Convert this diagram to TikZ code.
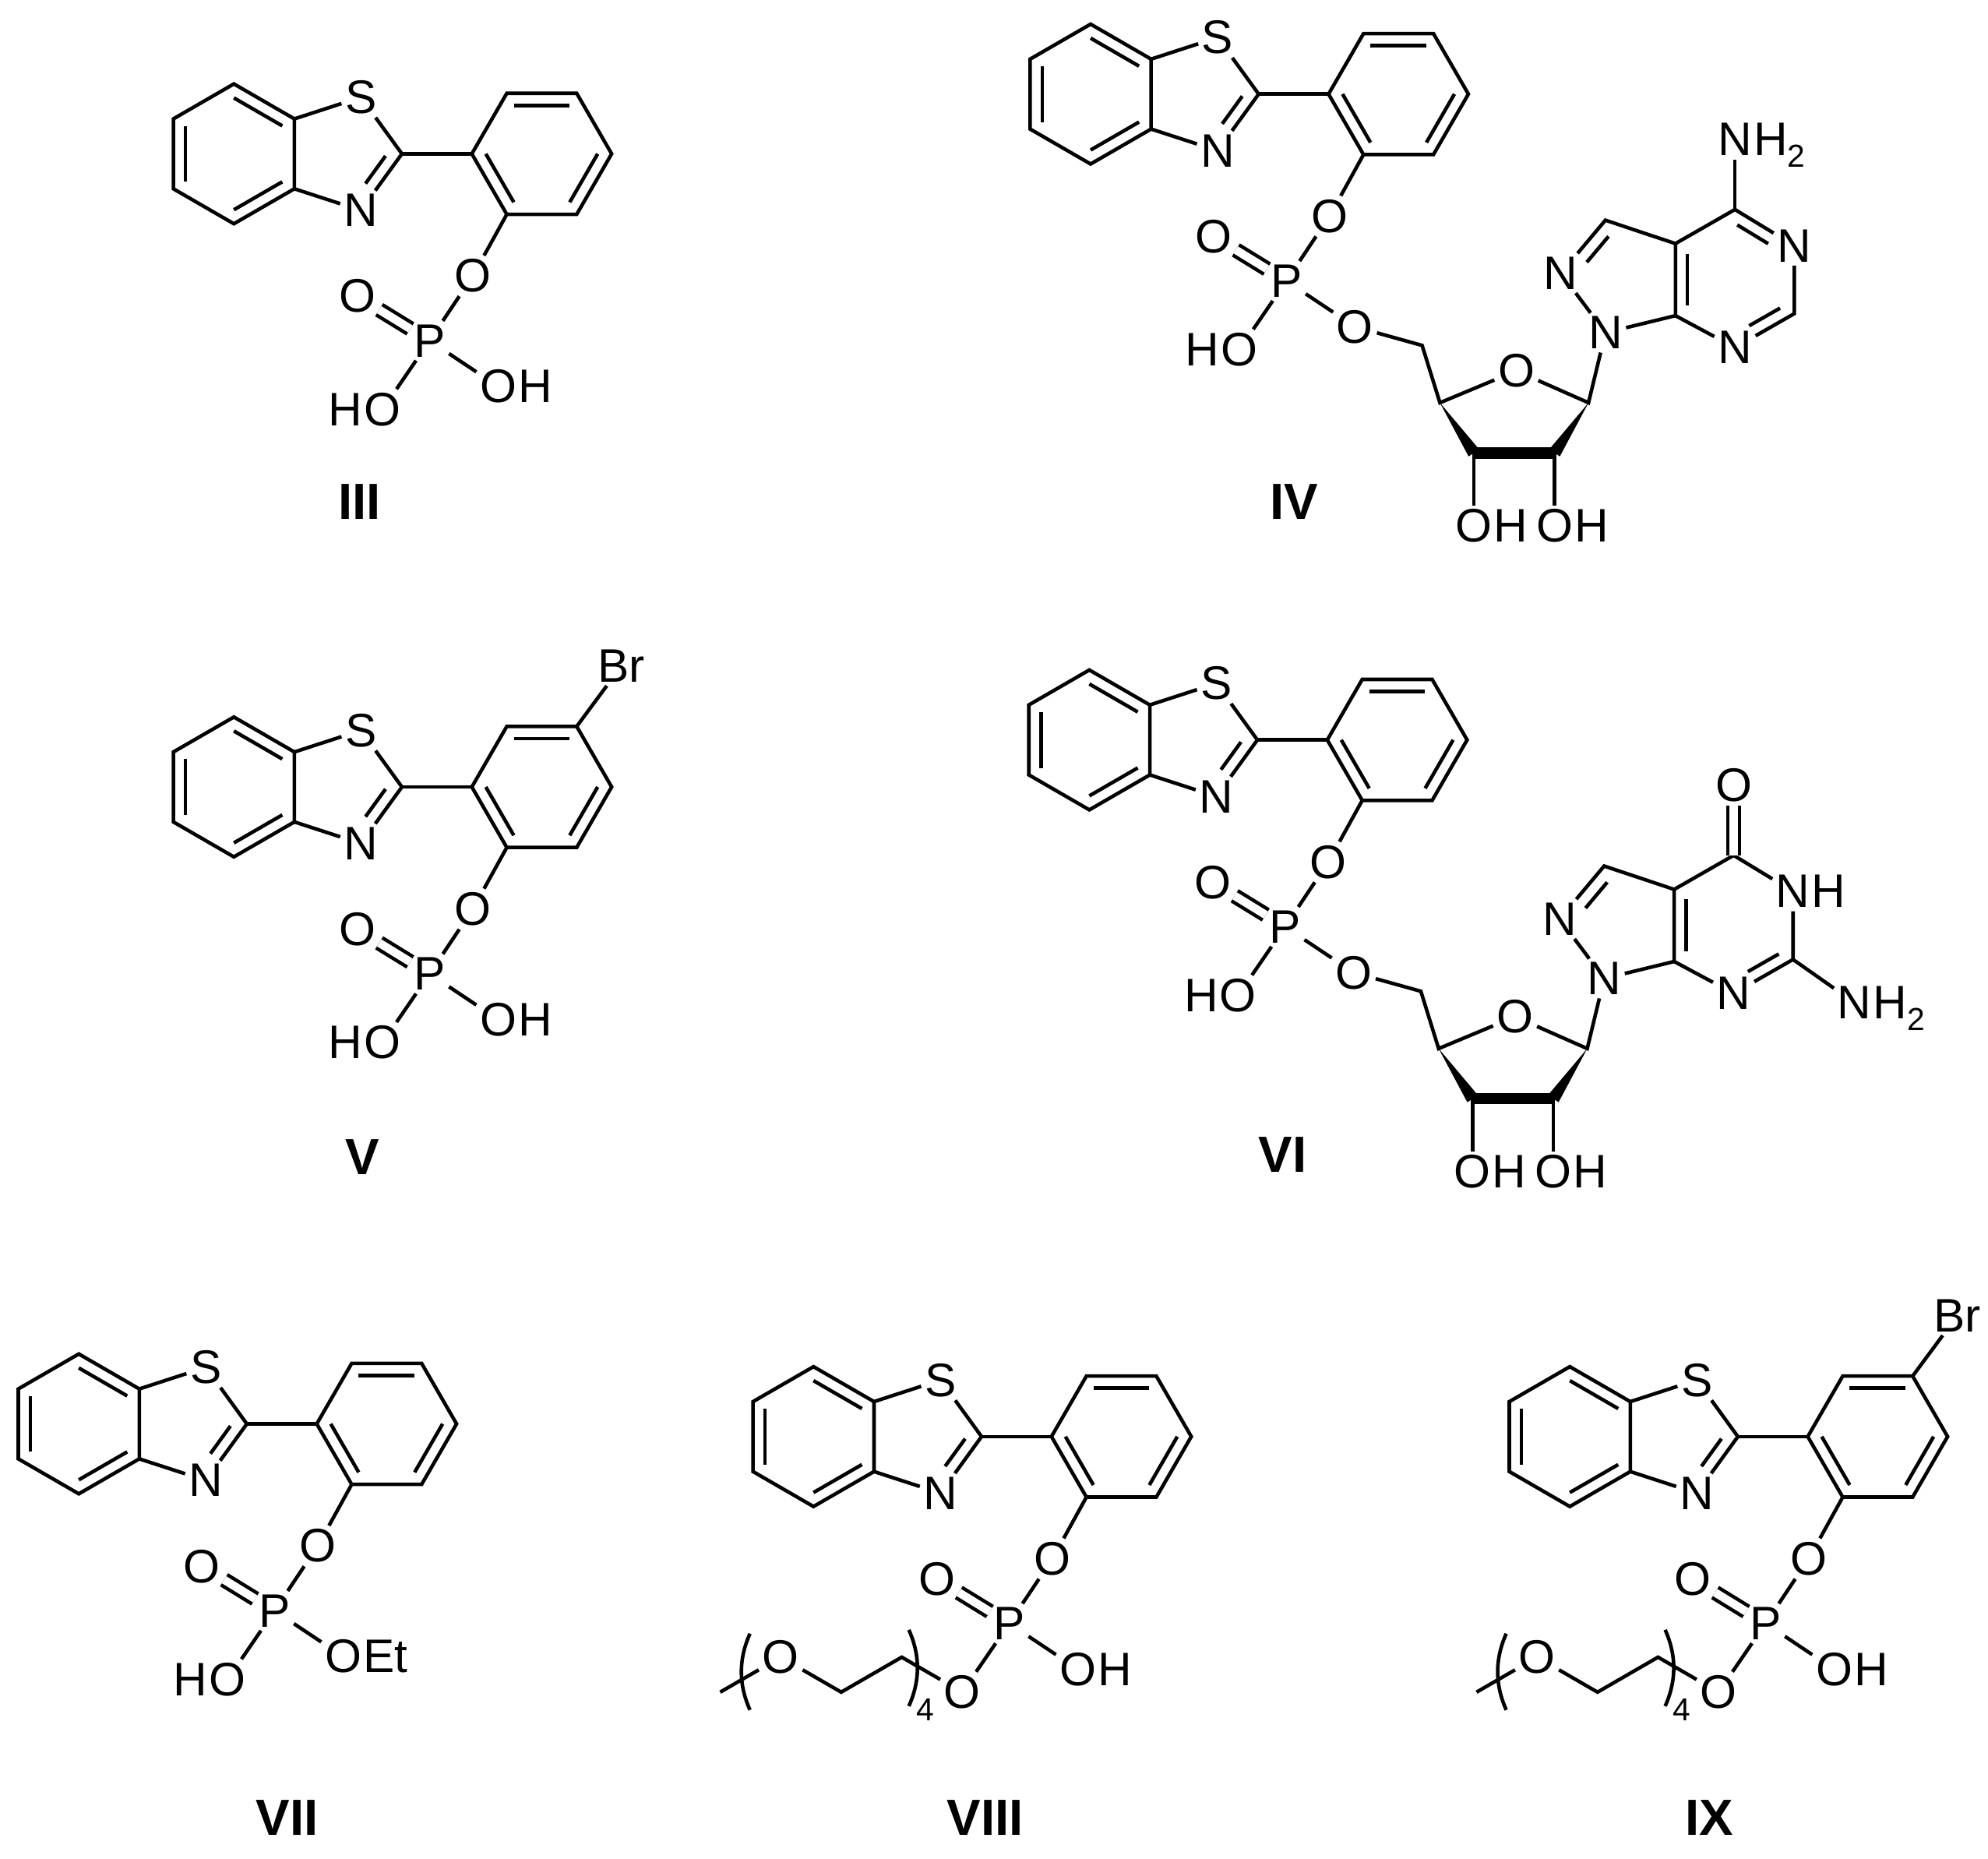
\documentclass[tikz,border=0pt]{standalone}
\usepackage{fontspec}
\setmainfont{Liberation Sans}
\usetikzlibrary{calc}
\newcommand\afont{\fontsize{37}{40}\selectfont}
\newcommand\sfont{\fontsize{25}{25}\selectfont}
\newcommand\subtwo{\raisebox{-9pt}[0pt][0pt]{\sfont 2}}
\newcommand\dbl[6]{\path ($(#1)!#4!(#3)$) coordinate (tmpP) ($(#2)!#4!(#3)$) coordinate (tmpQ); \draw ($(tmpP)!#5!(tmpQ)$) -- ($(tmpQ)!#6!(tmpP)$);}
\tikzset{
  atom/.style={inner sep=1.5pt, font=\afont},
  hl/.style={inner sep=0pt, font=\afont, label distance=-3pt},
  dbond/.style={double, double distance=6.5pt},
  lbl/.style={font=\fontsize{40}{44}\selectfont\bfseries},
}
\newcommand\btcore[3]{%
 \coordinate (#1a1) at (-47.6,-27.5);
 \coordinate (#1a2) at (0,-55);
 \coordinate (#1a3) at (47.6,-27.5);
 \coordinate (#1a4) at (47.6,27.5);
 \coordinate (#1a5) at (0,55);
 \coordinate (#1a6) at (-47.6,27.5);
 \coordinate (#1cb) at (0,0);
 \node[atom] (#1S) at (99.9,-44.5) {S};
 \node[atom] (#1N) at (99.9,44.5) {N};
 \coordinate (#1C2) at (132.2,0);
 \coordinate (#1ct) at (85.45,0);
 \coordinate (#1p1) at (187.2,0);
 \coordinate (#1p2) at (214.7,-47.6);
 \coordinate (#1p3) at (269.7,-47.6);
 \coordinate (#1p4) at (297.2,0);
 \coordinate (#1p5) at (269.7,47.6);
 \coordinate (#1p6) at (214.7,47.6);
 \coordinate (#1pc) at (242.2,0);
 \node[atom] (#1O1) at (188,96) {O};
 \node[atom] (#1P) at (154,147) {P};
 \node[atom] (#1O2) at (97,112) {O};
 \node[atom,#2] (#1O3) at (117,201) {O};
 \node[atom,#3] (#1O4) at (208,183) {O};
 \draw (#1a1)--(#1a2)--(#1a3)--(#1a4)--(#1a5)--(#1a6)--cycle;
 \draw (#1a3)--(#1S)--(#1C2)--(#1N)--(#1a4);
 \draw (#1C2)--(#1p1);
 \draw (#1p1)--(#1p2)--(#1p3)--(#1p4)--(#1p5)--(#1p6)--cycle;
 \dbl{#1a2}{#1a3}{#1cb}{0.2}{0}{0}
 \dbl{#1a4}{#1a5}{#1cb}{0.2}{0}{0}
 \dbl{#1a6}{#1a1}{#1cb}{0.2}{0}{0}
 \dbl{#1C2}{#1N}{#1ct}{0.25}{0.05}{0.3}
 \dbl{#1p2}{#1p3}{#1pc}{0.2}{0}{0}
 \dbl{#1p4}{#1p5}{#1pc}{0.2}{0}{0}
 \dbl{#1p6}{#1p1}{#1pc}{0.2}{0}{0}
 \draw (#1p6)--(#1O1)--(#1P);
 \draw[dbond] (#1P)--(#1O2);
 \draw (#1P)--(#1O3);
 \draw (#1P)--(#1O4);
}
\newcommand\nucl[2]{%
 \coordinate (#1c5) at (260.8,197.7);
 \coordinate (#1c4) at (274.8,242.8);
 \node[atom] (#1Or) at (334.9,217.7) {O};
 \coordinate (#1c1) at (391.7,242.8);
 \coordinate (#1c3) at (301.5,282.2);
 \coordinate (#1c2) at (365,282.2);
 \node[atom,label={[hl]right:H}] (#1oh3) at (301.5,339.6) {O};
 \node[atom,label={[hl]right:H}] (#1oh2) at (365,339.6) {O};
 \node[atom] (#1N1) at (405,187.7) {N};
 \node[atom] (#1N2) at (370,140.9) {N};
 \coordinate (#1q3) at (405,99.2);
 \coordinate (#1q3a) at (460.1,117.6);
 \coordinate (#1q7a) at (460.1,174.3);
 \coordinate (#1q4) at (506.9,90.8);
 \node[atom,#2] (#1N5) at (553.6,119.2) {N};
 \coordinate (#1q6) at (553.6,172.7);
 \node[atom] (#1N7) at (506.9,199.4) {N};
 \coordinate (#1pz) at (420,143.9);
 \coordinate (#1pm) at (506.9,145.7);
 \draw (#1O4)--(#1c5)--(#1c4)--(#1Or)--(#1c1)--(#1N1);
 \fill (#1c4) -- ($(#1c3)!5pt!90:(#1c4)$) -- ($(#1c3)!5pt!-90:(#1c4)$) -- cycle;
 \fill (#1c1) -- ($(#1c2)!5pt!90:(#1c1)$) -- ($(#1c2)!5pt!-90:(#1c1)$) -- cycle;
 \draw[line width=9pt] (#1c3)--(#1c2);
 \draw (#1c3)--(#1oh3);
 \draw (#1c2)--(#1oh2);
 \draw (#1N1)--(#1N2)--(#1q3)--(#1q3a)--(#1q7a)--(#1N1);
 \draw (#1q3a)--(#1q4)--(#1N5)--(#1q6)--(#1N7)--(#1q7a);
 \dbl{#1N2}{#1q3}{#1pz}{0.25}{0.3}{0.05}
 \dbl{#1q3a}{#1q7a}{#1pm}{0.2}{0.05}{0.05}
 \dbl{#1q6}{#1N7}{#1pm}{0.2}{0.05}{0.3}
}
\newcommand\brom[1]{%
 \node[atom,anchor=west] (#1Br) at (283.5,-95.2) {Br};
 \draw (#1p3)--(#1Br);
}
\newcommand\peg[1]{%
 \coordinate (#1g1) at (69.4,173.5);
 \coordinate (#1g2) at (21.8,201);
 \node[atom] (#1Og) at (-25.8,173.5) {O};
 \coordinate (#1g3) at (-73.4,201);
 \draw (#1O3)--(#1g1)--(#1g2)--(#1Og)--(#1g3);
 \draw (75,152) .. controls (84,172) and (84,192) .. (75,212);
 \draw (-50,155) .. controls (-59,175) and (-59,195) .. (-50,215);
 \node[font=\sfont, inner sep=0pt] (#1four) at (88,215) {4};
}
\begin{document}
\begin{tikzpicture}[x=1pt,y=-1pt,line width=2.8pt]
\useasboundingbox (0,0) rectangle (1564,1462);
\begin{scope}[shift={(184,121)}]
 \btcore{A}{label={[hl]left:H}}{label={[hl]right:H}}
\end{scope}
\begin{scope}[shift={(858,74)}]
 \btcore{B}{label={[hl]left:H}}{}
 \nucl{B}{}
 \dbl{Bq4}{BN5}{Bpm}{0.2}{0.05}{0.3}
 \node[atom,label={[hl]right:H\subtwo}] (BNH) at (506.9,35.7) {N};
 \draw (Bq4)--(BNH);
\end{scope}
\begin{scope}[shift={(184,619)}]
 \btcore{C}{label={[hl]left:H}}{label={[hl]right:H}}
 \brom{C}
\end{scope}
\begin{scope}[shift={(857,582)}]
 \btcore{D}{label={[hl]left:H}}{}
 \nucl{D}{label={[hl]right:H}}
 \node[atom] (DOk) at (506.9,35.7) {O};
 \draw[dbond] (Dq4)--(DOk);
 \node[atom,label={[hl]right:H\subtwo}] (DNH) at (602,206.7) {N};
 \draw (Dq6)--(DNH);
\end{scope}
\begin{scope}[shift={(62,1120)}]
 \btcore{E}{label={[hl]left:H}}{label={[hl]right:Et}}
\end{scope}
\begin{scope}[shift={(640,1130)}]
 \btcore{F}{}{label={[hl]right:H}}
 \peg{F}
\end{scope}
\begin{scope}[shift={(1235,1130)}]
 \btcore{G}{}{label={[hl]right:H}}
 \brom{G}
 \peg{G}
\end{scope}
\node[lbl] (lIII) at (283,395) {III};
\node[lbl] (lIV) at (1018,395) {IV};
\node[lbl] (lV) at (285,910) {V};
\node[lbl] (lVI) at (1009,908) {VI};
\node[lbl] (lVII) at (226,1430) {VII};
\node[lbl] (lVIII) at (775,1430) {VIII};
\node[lbl] (lIX) at (1345,1430) {IX};
\end{tikzpicture}
\end{document}
